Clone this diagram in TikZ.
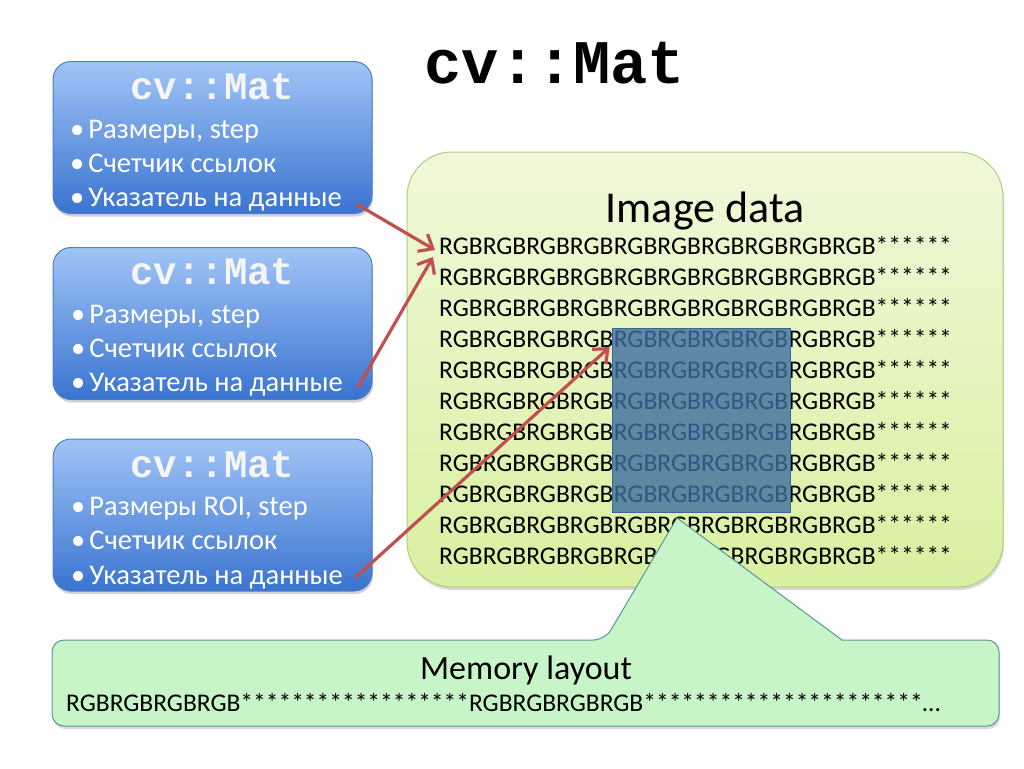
\documentclass[tikz,border=0pt]{standalone}
\usepackage{fontspec}
\setmainfont{Carlito}
\newfontfamily\monof{Liberation Mono}
\usetikzlibrary{arrows.meta,shadows,calc,fit}
\definecolor{arrowred}{RGB}{192,80,77}
\definecolor{bluetop}{RGB}{160,196,246}
\definecolor{bluebot}{RGB}{58,116,208}
\definecolor{blueedge}{RGB}{80,125,195}
\definecolor{greentop}{RGB}{241,248,218}
\definecolor{greenbot}{RGB}{216,240,160}
\definecolor{greenedge}{RGB}{175,205,125}
\definecolor{memfill}{RGB}{200,245,200}
\definecolor{memedge}{RGB}{90,150,150}
\definecolor{roifill}{RGB}{60,110,160}
\definecolor{roiedge}{RGB}{60,100,150}
\begin{document}
\begin{tikzpicture}[x=1pt,y=-1pt,
  bluebox/.style={draw=blueedge, line width=1pt, rounded corners=18pt,
    top color=bluetop, bottom color=bluebot, minimum width=319pt,
    minimum height=152pt, inner sep=0pt,
    drop shadow={opacity=0.35, shadow xshift=1pt, shadow yshift=-3pt}},
  greenbox/.style={draw=greenedge, line width=1pt, rounded corners=45pt,
    top color=greentop, bottom color=greenbot, inner sep=0pt,
    drop shadow={opacity=0.3, shadow xshift=1pt, shadow yshift=-3pt}},
  boxtitle/.style={text=white!96!black, font=\monof\bfseries\fontsize{39}{39}\selectfont, inner sep=0pt, anchor=base},
  bul/.style={text=white, font=\fontsize{28.5}{32}\selectfont, anchor=base west, inner sep=0pt},
  rowtext/.style={font=\fontsize{25.5}{30}\selectfont, anchor=base west, inner sep=0pt},
  roi/.style={draw=roiedge, line width=0.8pt, fill=roifill, fill opacity=0.8, inner sep=0pt},
  arr/.style={draw=arrowred, line width=3.2pt, -{Straight Barb[length=12pt,width=20pt]}},
  memshape/.style={draw=memedge, line width=1pt, fill=memfill,
    drop shadow={opacity=0.3, shadow xshift=1pt, shadow yshift=-3pt}}
]
\useasboundingbox (0,0) rectangle (1024,768);

% title
\node[anchor=base, inner sep=0pt, font=\monof\bfseries\fontsize{62}{62}\selectfont] (title) at (555,83) {cv::Mat};

% blue boxes
\node[bluebox] (b1) at (212.5,137.5) {};
\node[bluebox] (b2) at (212.5,323.5) {};
\node[bluebox] (b3) at (212.5,515) {};

\node[boxtitle] (t1) at (212.5,99) {cv::Mat};
\node[bul] (p11) at (70,138) {•\hspace{4pt}Размеры, step};
\node[bul] (p12) at (70,172) {•\hspace{4pt}Счетчик ссылок};
\node[bul] (p13) at (70,206) {•\hspace{4pt}Указатель на данные};

\node[boxtitle] (t2) at (212.5,284) {cv::Mat};
\node[bul] (p21) at (71,323) {•\hspace{4pt}Размеры, step};
\node[bul] (p22) at (71,357) {•\hspace{4pt}Счетчик ссылок};
\node[bul] (p23) at (71,391) {•\hspace{4pt}Указатель на данные};

\node[boxtitle] (t3) at (212.5,477) {cv::Mat};
\node[bul] (p31) at (71,515) {•\hspace{4pt}Размеры ROI, step};
\node[bul] (p32) at (71,549) {•\hspace{4pt}Счетчик ссылок};
\node[bul] (p33) at (71,584) {•\hspace{4pt}Указатель на данные};

% image data box
\node[greenbox, minimum width=596pt, minimum height=435pt] (img) at (705,369.5) {};
\node[anchor=base, inner sep=0pt, font=\fontsize{44}{50}\selectfont] (imgt) at (705,222) {Image data};

\foreach \i in {1,...,11} {
  \pgfmathsetmacro\yb{254+31*(\i-1)}
  \node[rowtext] (ra\i) at (439,\yb) {RGBRGBRGBRGB};
  \node[rowtext] (rb\i) at (ra\i.base east) {RGBRGBRGBRGB};
  \node[rowtext] (rc\i) at (rb\i.base east) {RGBRGB******};
}

% ROI
\node[roi, fit={($(rb4.base west)+(-1,-19)$) ($(rb9.base east)+(2,10)$)}] (roi) {};

% arrows
\coordinate (a1s) at ($(b1.south east)+(-16,-10)$);
\coordinate (a1e) at ($(ra1.base west)+(-4,-4)$);
\coordinate (a2s) at ($(b2.south east)+(-15,-12)$);
\coordinate (a2e) at ($(ra1.base west)+(-6,3)$);
\coordinate (a3s) at ($(b3.south east)+(-17,-14)$);
\coordinate (a3e) at ($(rb4.base west)+(-4,0)$);
\draw[arr] (a1s) -- (a1e);
\draw[arr] (a2s) -- (a2e);
\draw[arr] (a3s) -- (a3e);

% memory layout callout
\path[memshape] (52,690) [rounded corners=12pt] |- (400,640) -- (605,640) [sharp corners] -- (677,518) -- (842,640) [rounded corners=12pt] -| (999,726) -| (52,690) -- cycle;
\node[anchor=base, inner sep=0pt, font=\fontsize{34}{40}\selectfont] (ml) at (526,679) {Memory layout};
\node[rowtext] (mt) at (66,711) {RGBRGBRGBRGB******************RGBRGBRGBRGB**********************…};
\end{tikzpicture}
\end{document}
